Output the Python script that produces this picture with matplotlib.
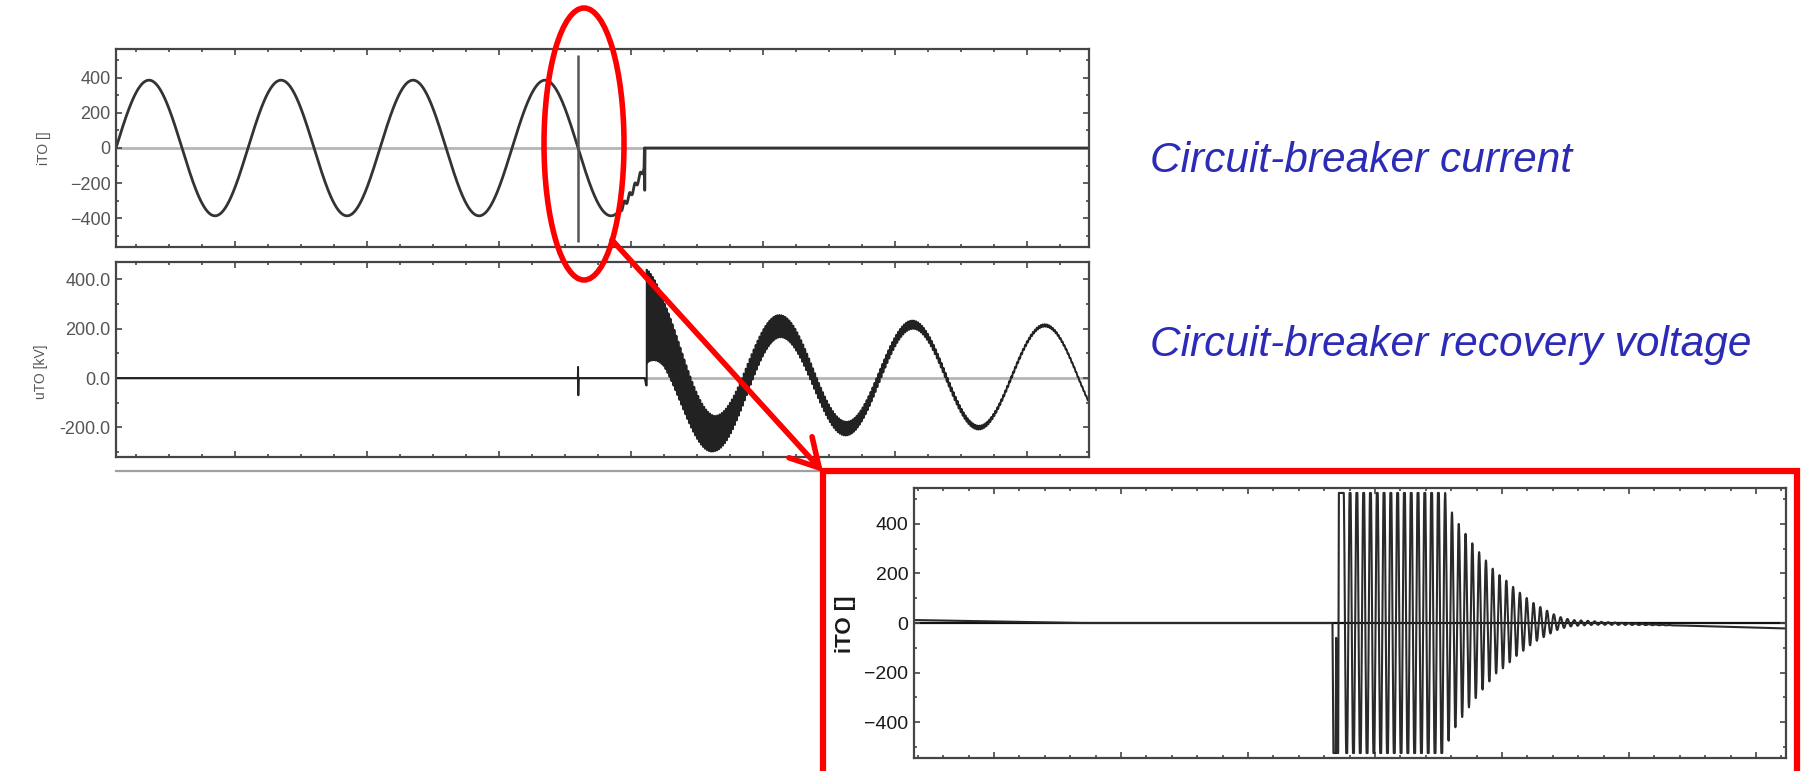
import numpy as np
import matplotlib.pyplot as plt
from matplotlib.ticker import MultipleLocator, FormatStrFormatter
from matplotlib.patches import Ellipse

W, H = 1804, 771

# ---- circuit-breaker current (top panel), time in ms ----
t_lim = (2.0, 149.4)
i_amp = 385.0           # A peak
i_freq = 50.0           # Hz
i_t0 = 2.0              # upward zero crossing
i_jag_t = [78.0, 79.0, 80.0, 81.0, 82.0]
i_jag_v = [-366, -320, -260, -190, -110]
i_jag_wiggle = 18.0
i_tail_t = [82.05, 82.1, 82.15, 149.4]
i_tail_v = [0, -240, 0, 0]
marker_t = 72.0
marker_lo, marker_hi = -535, 530

# ---- recovery voltage (middle panel), kV ----
u_pre_t = [2.0, 71.96, 72.0, 72.04, 72.08, 82.1, 82.3, 82.38]
u_pre_v = [0, 0, 45, -70, 0, 0, -30, -30]
u_cz = 82.4
u_ext_t = [82.4, 92.6, 102.6, 112.6, 122.7, 132.7, 142.7, 152.7]
u_ext_v = [250, -225, 210, -205, 216, -201, 213, -200]
u_hf_t = [82.4, 85.0, 92.6, 102.6, 112.6, 122.7, 132.7, 142.7, 149.4]
u_hf_a = [190, 130, 72, 45, 28, 17, 8, 5, 3]
u_hf_period = 0.3

# ---- zoomed current around the interruption (inset), time in us ----
z_lim = (-63.0, 623.6)
z_base_t = [-63, 65, 266.5]
z_base_v = [12, 0, 0]
z_kick_t = [266.5, 267.2, 269.0, 269.4, 269.9, 271.0, 271.5, 275.0]
z_kick_v = [0, -525, -525, -60, -525, -525, 525, 525]
z_osc_t0 = 275.0
z_osc_period = 5.35
z_clip = 525
z_env_t = [275, 352, 357, 362, 368, 373.5, 378.7, 384.5, 390, 395, 401, 406,
           411.6, 417, 422.6, 428, 434, 439, 444, 450, 456, 477, 516, 540]
z_env_a = [600, 600, 485, 431, 384, 344, 307, 270, 236, 205, 182, 159,
           132, 111, 88, 70, 54, 40, 27, 18, 12, 6, 2, 0]
z_drift_t = [470, 623.6]
z_drift_v = [0, -22]

frame = '#454545'
trace = '#333333'


def half_cos(t, tk, vk):
    out = np.zeros_like(t)
    for a, b, va, vb in zip(tk[:-1], tk[1:], vk[:-1], vk[1:]):
        m = (t >= a) & (t < b)
        s = (t[m] - a) / (b - a)
        out[m] = (va + vb) / 2 + (va - vb) / 2 * np.cos(np.pi * s)
    return out


def px_axes(fig, x0, y0, x1, y1):
    return fig.add_axes([x0 / W, 1 - y1 / H, (x1 - x0) / W, (y1 - y0) / H])


def style(ax, xmaj, xmin, ymaj, ymin, size, color):
    ax.xaxis.set_major_locator(MultipleLocator(xmaj))
    ax.xaxis.set_minor_locator(MultipleLocator(xmin))
    ax.yaxis.set_major_locator(MultipleLocator(ymaj))
    ax.yaxis.set_minor_locator(MultipleLocator(ymin))
    ax.tick_params(which='both', direction='in', top=True, right=True,
                   color=frame, width=1.2)
    ax.tick_params(which='major', length=4.5)
    ax.tick_params(which='minor', length=2.5)
    ax.tick_params(axis='y', labelsize=size, labelcolor=color, pad=4)
    ax.tick_params(axis='x', labelbottom=False)
    for s in ax.spines.values():
        s.set_color(frame)
        s.set_linewidth(1.6)


plt.rcParams['font.family'] = ['Liberation Sans', 'DejaVu Sans']
fig = plt.figure(figsize=(W / 100, H / 100), dpi=100)

# top: current
ax1 = px_axes(fig, 116, 49, 1089, 247)
t = np.arange(t_lim[0], 78.0, 0.01)
i_val = i_amp * np.sin(2 * np.pi * i_freq * (t - i_t0) / 1000)
tj = np.arange(78.0, 82.0, 0.01)
ij = np.interp(tj, i_jag_t, i_jag_v) + i_jag_wiggle * np.sin(2 * np.pi * (tj - 78.0) / 0.8)
t_cur = np.concatenate([t, tj, i_tail_t])
i_cur = np.concatenate([i_val, ij, i_tail_v])
ax1.axhline(0, color='#b5b5b5', lw=2.0, zorder=1)
ax1.plot(t_cur, i_cur, color=trace, lw=2.0, zorder=2)
ax1.vlines(marker_t, marker_lo, marker_hi, color='#555555', lw=1.8, zorder=3)
ax1.set_xlim(*t_lim)
ax1.set_ylim(-562, 562)
style(ax1, 20, 5, 200, 100, 13, '#555555')

# middle: recovery voltage
ax2 = px_axes(fig, 116, 262, 1089, 457)
tu = np.arange(t_lim[0], t_lim[1], 0.005)
u = np.interp(tu, u_pre_t, u_pre_v)
post = tu >= u_cz
u[post] = (half_cos(tu, u_ext_t, u_ext_v)[post]
           + np.interp(tu[post], u_hf_t, u_hf_a)
           * np.cos(2 * np.pi * (tu[post] - u_cz) / u_hf_period))
ax2.axhline(0, color='#b5b5b5', lw=2.0, zorder=1)
ax2.plot(tu, u, color='#222222', lw=1.4, zorder=2)
ax2.set_xlim(*t_lim)
ax2.set_ylim(-320, 470)
style(ax2, 20, 5, 200, 100, 13, '#555555')
ax2.yaxis.set_major_formatter(FormatStrFormatter('%.1f'))

# inset: zoomed current
ax3 = px_axes(fig, 914, 488, 1786, 758)
tz = np.arange(z_lim[0], z_lim[1], 0.05)
iz = np.interp(tz, z_base_t, z_base_v)
kick = (tz >= z_kick_t[0]) & (tz < z_osc_t0)
iz[kick] = np.interp(tz[kick], z_kick_t, z_kick_v)
osc = tz >= z_osc_t0
env = np.interp(tz[osc], z_env_t, z_env_a, right=0)
iz[osc] = np.clip(env * np.cos(2 * np.pi * (tz[osc] - z_osc_t0) / z_osc_period),
                  -z_clip, z_clip)
iz += np.interp(tz, z_drift_t, z_drift_v, left=0)
ax3.axhline(0, color='#111111', lw=1.6, zorder=1)
ax3.plot(tz, iz, color='#2a2a2a', lw=1.5, zorder=2)
ax3.set_xlim(*z_lim)
ax3.set_ylim(-545, 545)
style(ax3, 100, 20, 200, 100, 14, '#1a1a1a')

# axis labels
fig.text(44 / W, 1 - 148 / H, 'iTO []', rotation=90, ha='center', va='center',
         fontsize=10, color='#555555')
fig.text(41 / W, 1 - 372 / H, 'uTO [kV]', rotation=90, ha='center', va='center',
         fontsize=10, color='#555555')
fig.text(845 / W, 1 - 624 / H, 'iTO []', rotation=90, ha='center', va='center',
         fontsize=16, fontweight='bold', color='#1a1a1a')

# captions
blue = '#2b2bb8'
fig.text(1150 / W, 1 - 161 / H, 'Circuit-breaker current', ha='left', va='center',
         fontsize=30.5, style='italic', color=blue)
fig.text(1150 / W, 1 - 345 / H, 'Circuit-breaker recovery voltage', ha='left',
         va='center', fontsize=30.5, style='italic', color=blue)

# overlay in pixel units for the annotations
ov = fig.add_axes([0, 0, 1, 1], zorder=10)
ov.set_xlim(0, W)
ov.set_ylim(H, 0)
ov.axis('off')
ov.patch.set_alpha(0)
ov.plot([116, 1089], [471, 471], color='#a0a0a0', lw=1.6)
ov.add_patch(Ellipse((584, 144), 80, 272, fill=False, edgecolor='red', lw=4))
ov.annotate('', xy=(823, 472), xytext=(612, 240),
            arrowprops=dict(arrowstyle='->, head_length=0.8, head_width=0.45',
                            color='red', lw=4, mutation_scale=25,
                            shrinkA=0, shrinkB=0))
ov.plot([823, 823, 1797, 1797], [800, 471, 471, 800], color='red', lw=4.5,
        clip_on=False, solid_joinstyle='miter')

fig.savefig('out.png', dpi=100)
